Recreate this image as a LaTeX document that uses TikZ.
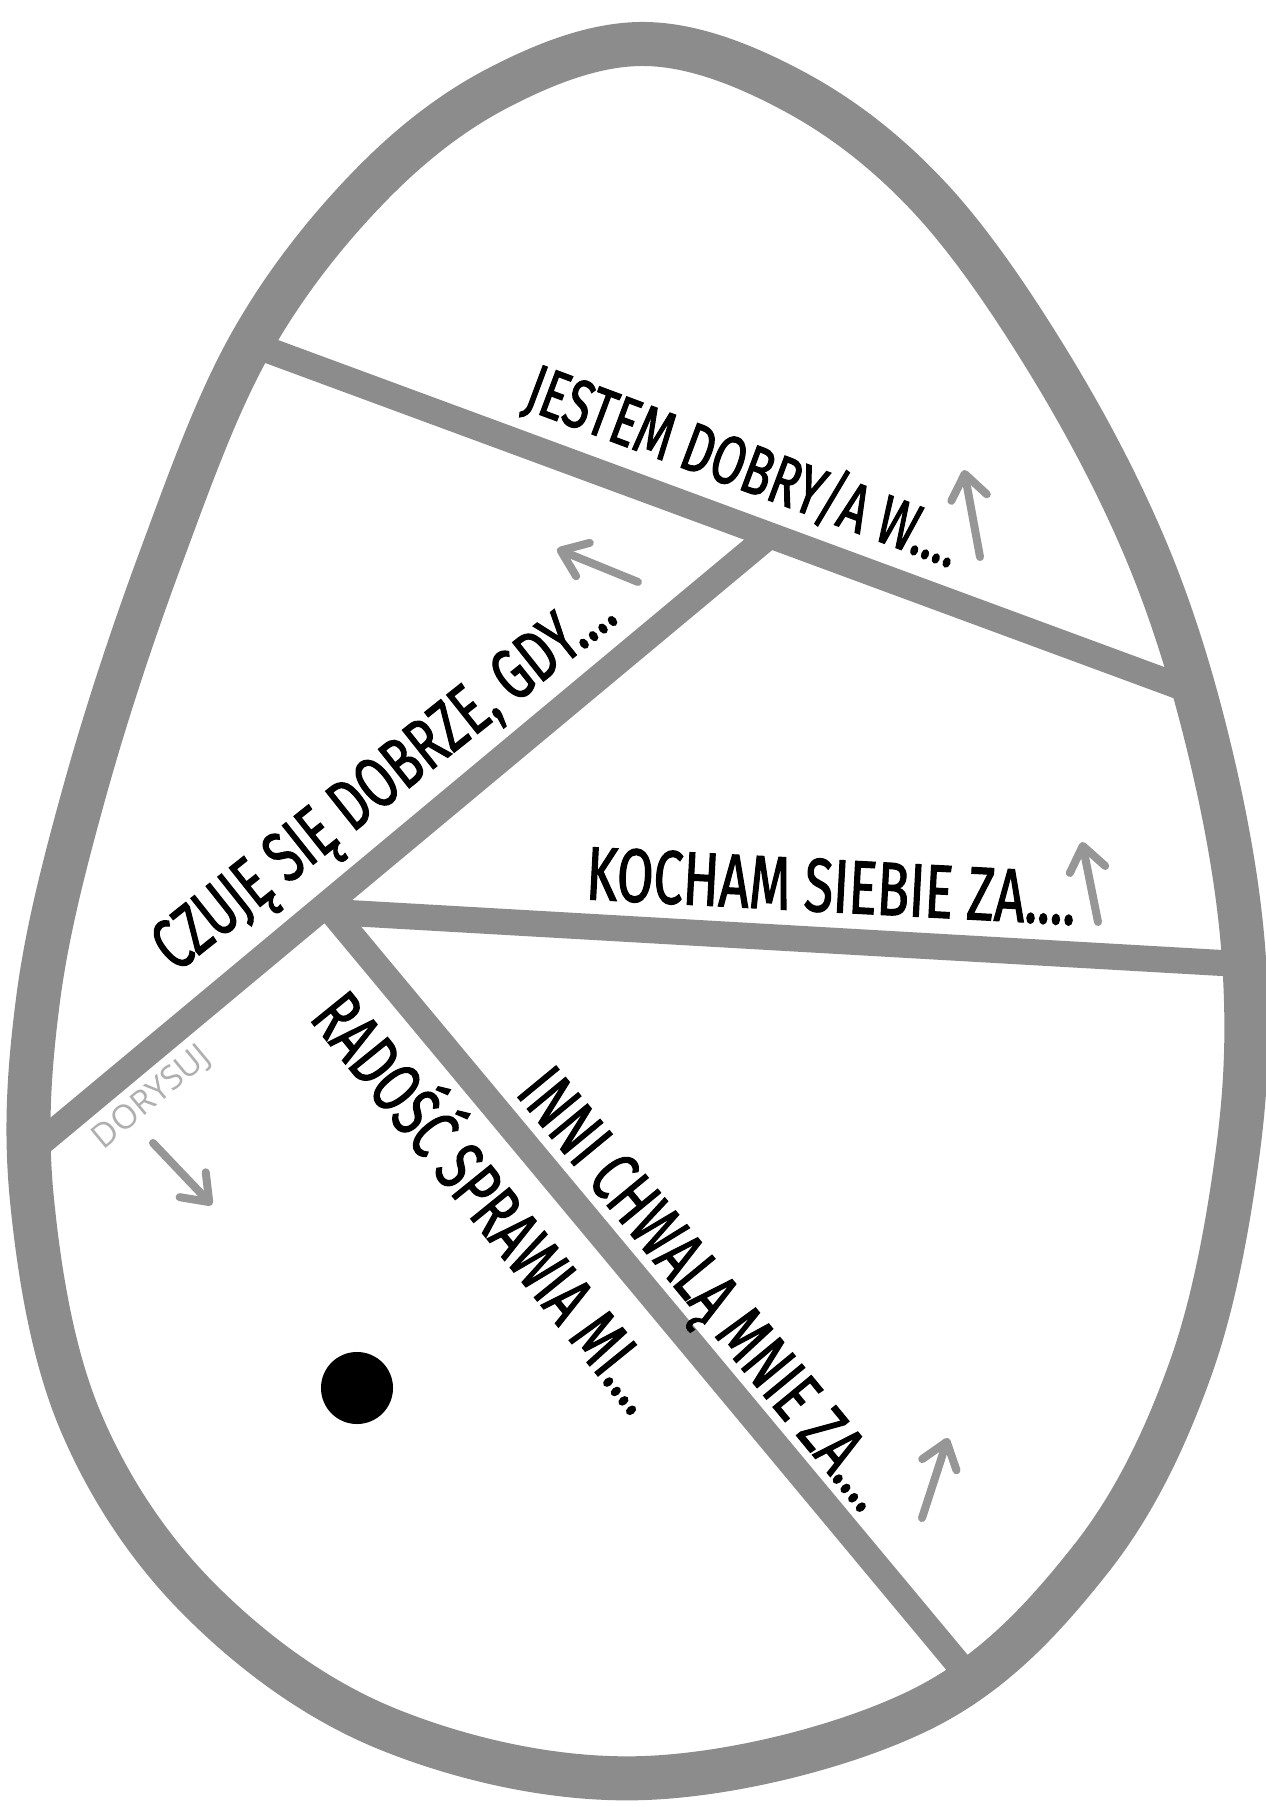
\documentclass[tikz,border=0pt]{standalone}
\usepackage{fontspec}
\setmainfont{Fira Sans}
\newfontfamily\handfont[FakeStretch=0.70, FakeBold=1.5]{Fira Sans}
\newfontfamily\thinfont{Open Sans}
\usetikzlibrary{arrows.meta}
\definecolor{EggGray}{RGB}{140,140,140}
\definecolor{ArrowGray}{RGB}{150,150,150}
\definecolor{HintGray}{RGB}{175,175,175}

\begin{document}
\begin{tikzpicture}[x=0.01cm, y=-0.01cm,
    shell/.style={draw=EggGray, line width=0.44cm, line join=round},
    split/.style={draw=EggGray, line width=0.26cm},
    lbl/.style={font={\handfont\fontsize{20.5pt}{24pt}\selectfont},
                inner sep=0pt, anchor=base},
    hint/.style={font={\thinfont\fontsize{9.5pt}{11pt}\selectfont},
                 text=HintGray, inner sep=0pt, anchor=base},
    pointer/.style={draw=ArrowGray, line width=0.08cm, line cap=round,
                    -{Straight Barb[length=0.24cm, width=0.36cm, round]}}
  ]
  \fill[white] (0,0) rectangle (1265,1807);
  \useasboundingbox (0,0) rectangle (1265,1807);

  % end points of the dividing lines
  \coordinate (a1) at (254,345);
  \coordinate (a2) at (1189,690);
  \coordinate (j1) at (770,535);
  \coordinate (b2) at (38,1145);
  \coordinate (j2) at (332,912);
  \coordinate (c2) at (1222,963);
  \coordinate (d2) at (965,1672);

  \draw[split] (a1) -- (a2);
  \draw[split] (j1) -- (b2);
  \draw[split, line cap=round] (j2) -- (c2);
  \draw[split] (j2) -- (d2);

  % the shell
  \draw[shell] plot[smooth cycle, tension=0.6] coordinates {
    (645,44) (795,92) (930,198) (1052,368) (1150,560) (1212,760)
    (1244,960) (1238,1150) (1190,1370) (1090,1560) (920,1710)
    (645,1778) (390,1730) (200,1600) (80,1420) (32,1200) (38,1000)
    (85,790) (160,560) (250,345) (368,188) (498,88)};

  % labels
  \node[lbl, font={\handfont\fontsize{19.5pt}{24pt}\selectfont}, rotate=-20.5]
    (jestem) at (736,488) {JESTEM DOBRY/A W....};
  \node[lbl, rotate=38.5] (czuje) at (398,797) {CZUJĘ SIĘ DOBRZE, GDY....};
  \node[lbl, font={\handfont\fontsize{21.5pt}{24pt}\selectfont}, rotate=-3]
    (kocham) at (830,912) {KOCHAM SIEBIE ZA....};
  \node[lbl, rotate=-50.5] (inni) at (688,1304) {INNI CHWALĄ MNIE ZA....};
  \node[lbl, rotate=-51] (radosc) at (470,1218) {RADOŚĆ SPRAWIA MI....};
  \node[hint, rotate=39.7] (dorysuj) at (158,1105) {DORYSUJ};

  % arrows
  \coordinate (p1s) at (980,557);  \coordinate (p1e) at (964,470);
  \coordinate (p2s) at (638,582);  \coordinate (p2e) at (557,549);
  \coordinate (p3s) at (1098,922); \coordinate (p3e) at (1082,842);
  \coordinate (p4s) at (922,1518); \coordinate (p4e) at (948,1438);
  \coordinate (p5s) at (153,1143); \coordinate (p5e) at (212,1205);
  \foreach \k in {1,...,5}
    \draw[pointer] (p\k s) -- (p\k e);

  \node[circle, fill=black, minimum size=0.72cm, inner sep=0pt] (dot) at (357,1388) {};
\end{tikzpicture}
\end{document}
